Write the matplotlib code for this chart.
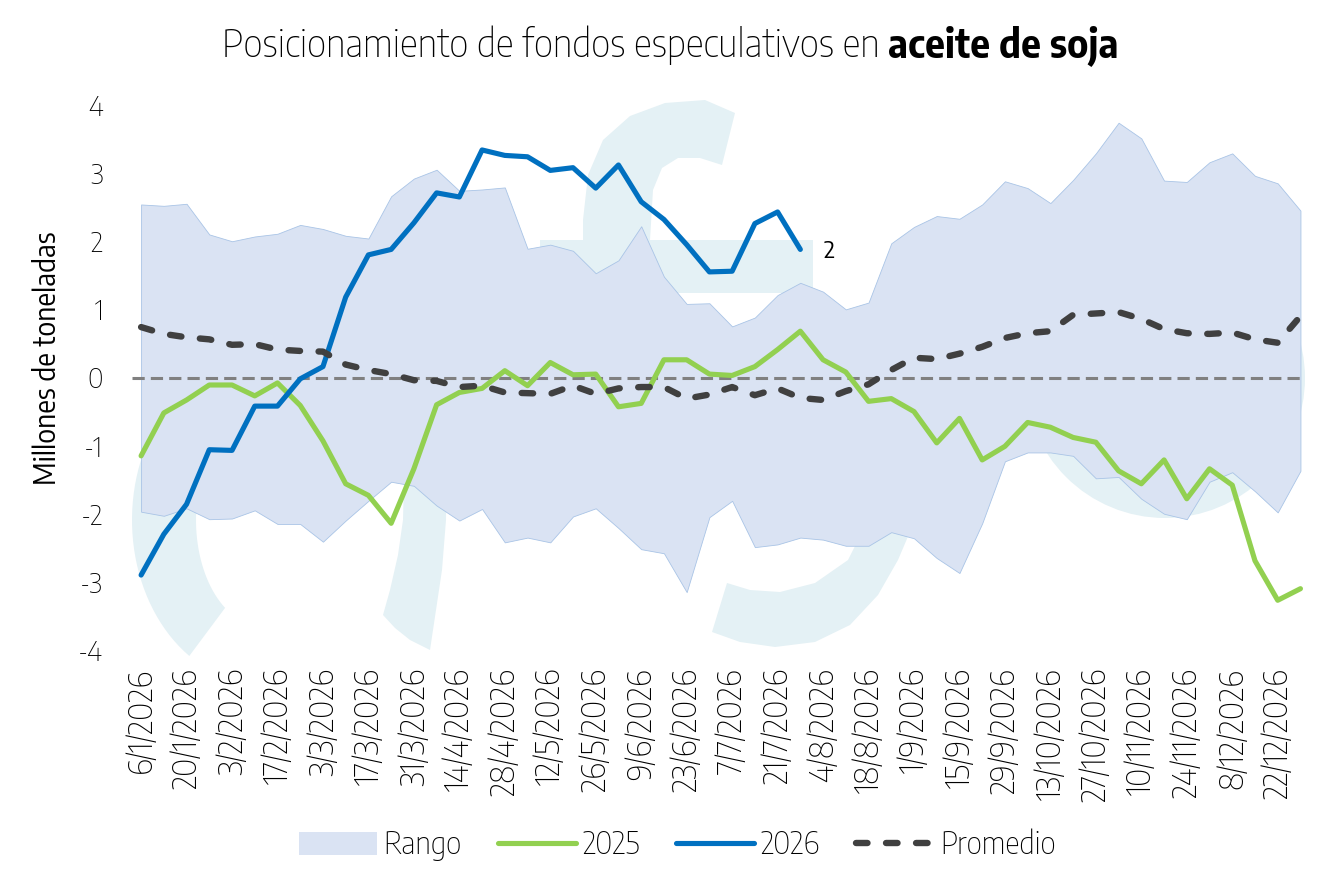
import numpy as np
import matplotlib
matplotlib.use("Agg")
import matplotlib.pyplot as plt
from matplotlib.patches import Polygon, Ellipse, Patch
from matplotlib.lines import Line2D

# datos semanales (millones de toneladas), 6/1/2026 ... 29/12/2026
semanas = list(range(52))

rango_max = [2.54, 2.52, 2.55, 2.10, 2.00, 2.07, 2.11, 2.24, 2.18, 2.08, 2.04, 2.66, 2.92, 3.05, 2.74, 2.76, 2.79,
             1.89, 1.95, 1.86, 1.53, 1.72, 2.22, 1.48, 1.08, 1.09, 0.75, 0.88, 1.21, 1.39, 1.26, 1.00, 1.10,
             1.97, 2.21, 2.37, 2.33, 2.54, 2.88, 2.78, 2.56, 2.90, 3.29, 3.74, 3.51, 2.89, 2.87, 3.16, 3.29, 2.96, 2.85, 2.45]
rango_min = [-1.97, -2.03, -1.92, -2.08, -2.07, -1.95, -2.15, -2.15, -2.41, -2.10, -1.81, -1.53, -1.59, -1.88, -2.10, -1.93, -2.42,
             -2.35, -2.42, -2.04, -1.92, -2.21, -2.52, -2.58, -3.15, -2.05, -1.81, -2.49, -2.45, -2.35, -2.38, -2.47, -2.47,
             -2.27, -2.36, -2.65, -2.87, -2.14, -1.23, -1.10, -1.10, -1.15, -1.48, -1.46, -1.78, -2.00, -2.08, -1.53, -1.39, -1.67, -1.98, -1.37]
serie_2025 = [-1.15, -0.52, -0.33, -0.11, -0.11, -0.27, -0.08, -0.41, -0.93, -1.56, -1.73, -2.14, -1.34, -0.40, -0.22, -0.16, 0.10, -0.12, 0.22,
              0.04, 0.05, -0.43, -0.38, 0.26, 0.26, 0.05, 0.03, 0.16, 0.41, 0.68, 0.26, 0.08, -0.35, -0.31, -0.50,
              -0.96, -0.60, -1.21, -1.01, -0.66, -0.73, -0.88, -0.95, -1.37, -1.56, -1.21, -1.78, -1.34, -1.58, -2.69, -3.27, -3.10]
serie_2026 = [-2.90, -2.30, -1.86, -1.06, -1.07, -0.42, -0.42, -0.02, 0.16, 1.18, 1.80, 1.88, 2.27, 2.71, 2.65,
              3.34, 3.26, 3.24, 3.04, 3.08, 2.78, 3.12, 2.58, 2.32, 1.95, 1.55, 1.56, 2.26, 2.43, 1.88]
promedio = [0.74, 0.64, 0.59, 0.56, 0.48, 0.49, 0.41, 0.39, 0.38, 0.19, 0.11, 0.05, -0.04, -0.05, -0.14, -0.12, -0.22, -0.23, -0.24,
            -0.12, -0.24, -0.16, -0.14, -0.14, -0.31, -0.25, -0.14, -0.26, -0.16, -0.30, -0.33, -0.20, -0.10,
            0.11, 0.29, 0.27, 0.35, 0.45, 0.58, 0.65, 0.68, 0.92, 0.94, 0.96, 0.86, 0.71, 0.65, 0.64, 0.66, 0.56, 0.51, 0.90]

etiquetas = ["6/1/2026", "20/1/2026", "3/2/2026", "17/2/2026", "3/3/2026", "17/3/2026", "31/3/2026",
             "14/4/2026", "28/4/2026", "12/5/2026", "26/5/2026", "9/6/2026", "23/6/2026", "7/7/2026",
             "21/7/2026", "4/8/2026", "18/8/2026", "1/9/2026", "15/9/2026", "29/9/2026", "13/10/2026",
             "27/10/2026", "10/11/2026", "24/11/2026", "8/12/2026", "22/12/2026"]

plt.rcParams['font.family'] = ['Encode Sans Semi Condensed', 'DejaVu Sans']
plt.rcParams['font.weight'] = 'light'
plt.rcParams['axes.unicode_minus'] = False

W, H = 1339, 890
fig = plt.figure(figsize=(W / 100, H / 100), dpi=100)
fig.patch.set_facecolor('white')

# marca de agua de fondo (en pixeles de la figura)
def px(pts):
    return [(x / W, 1 - y / H) for x, y in pts]

marca = '#e4f1f5'
def arco(cx, cy, rxo, ryo, rxi, ryi, t0, t1):
    t = np.radians(np.linspace(t0, t1, 40))
    ext = [(cx + rxo * np.cos(a), cy + ryo * np.sin(a)) for a in t]
    inn = [(cx + rxi * np.cos(a), cy + ryi * np.sin(a)) for a in t[::-1]]
    return ext + inn

formas = [
    arco(262, 520, 130, 164, 66, 106, 124, 235),
    [(447, 440), (446, 520), (442, 570), (436, 610), (430, 650), (410, 640), (395, 628), (383, 615),
     (390, 590), (398, 555), (403, 520), (405, 440)],
    [(583, 293), (583, 220), (588, 175), (603, 140), (630, 116), (665, 103), (705, 100), (735, 113), (722, 165),
     (700, 158), (678, 158), (662, 168), (653, 190), (650, 240), (650, 293)],
    [(540, 240), (813, 240), (813, 293), (540, 293)],
    [(712, 632), (740, 642), (775, 647), (815, 642), (850, 625), (878, 595), (898, 560), (915, 520), (930, 450),
     (880, 450), (868, 520), (848, 560), (815, 583), (780, 592), (750, 590), (727, 583)],
]
for f in formas:
    fig.add_artist(Polygon(px(f), closed=True, facecolor=marca, edgecolor='none', zorder=0.5))
fig.add_artist(Ellipse((1165 / W, 1 - 378 / H), 280 / W, 280 / H, facecolor=marca, edgecolor='none', zorder=0.5))

ax = fig.add_axes([132 / W, 1 - 650 / H, 1173 / W, 545 / H])
ax.set_zorder(1)
ax.patch.set_visible(False)

ax.fill_between(semanas, rango_min, rango_max, facecolor='#dae3f3', edgecolor='#a9c4e6', linewidth=0.6, zorder=1)
ax.axhline(0, color='#808080', linewidth=2.2, dashes=(4, 2), zorder=2)
ax.plot(semanas, serie_2025, color='#92d050', linewidth=3.7, solid_capstyle='round', solid_joinstyle='round', zorder=3)
ax.plot(semanas[:len(serie_2026)], serie_2026, color='#0070c0', linewidth=3.7, solid_capstyle='round',
        solid_joinstyle='round', zorder=4)
ax.plot(semanas, promedio, color='#404040', linewidth=4.6, dashes=(1.8, 2.9), dash_capstyle='round', zorder=5)

# etiqueta del ultimo dato 2026
ax.annotate(f"{serie_2026[-1]:.0f}", xy=(len(serie_2026) - 1, serie_2026[-1]), xytext=(17, -1),
            textcoords='offset points', fontsize=17, fontweight='normal', va='center', ha='left', color='black')

ax.set_xlim(-0.4, 51.2)
ax.set_ylim(-4, 4)
ax.set_yticks(range(-4, 5))
ax.set_xticks(semanas[::2])
ax.set_xticklabels(etiquetas, rotation=90, fontsize=23.5)
ax.tick_params(axis='both', length=0, colors='black')
ax.tick_params(axis='y', labelsize=20, pad=21)
ax.tick_params(axis='x', pad=13)
for s in ax.spines.values():
    s.set_visible(False)
ax.set_ylabel('Millones de toneladas', fontsize=20.5)
ax.yaxis.set_label_coords(-0.06, 0.535)

# titulo con parte en negrita
r = fig.canvas.get_renderer()
t1 = fig.text(0, 1 - 57 / H, 'Posicionamiento de fondos especulativos en ', fontsize=27.7, va='baseline')
t2 = fig.text(0, 1 - 57 / H, 'aceite de soja', fontsize=27.7, fontweight='bold', va='baseline')
w1 = t1.get_window_extent(r).width
w2 = t2.get_window_extent(r).width
x0 = 670 - (w1 + w2) / 2
t1.set_x(x0 / W)
t2.set_x((x0 + w1) / W)

handles = [Patch(facecolor='#dae3f3', edgecolor='none'),
           Line2D([], [], color='#92d050', linewidth=3.7, solid_capstyle='round'),
           Line2D([], [], color='#0070c0', linewidth=3.7, solid_capstyle='round'),
           Line2D([], [], color='#404040', linewidth=4.6, dashes=(1.8, 2.9), dash_capstyle='round')]
fig.legend(handles, ['Rango', '2025', '2026', 'Promedio'], loc='center', bbox_to_anchor=(0.506, 1 - 845 / H),
           ncol=4, frameon=False, fontsize=22, handlelength=2.55, handleheight=0.8, handletextpad=0.2,
           columnspacing=1.2)

fig.savefig('out.png', dpi=100)
